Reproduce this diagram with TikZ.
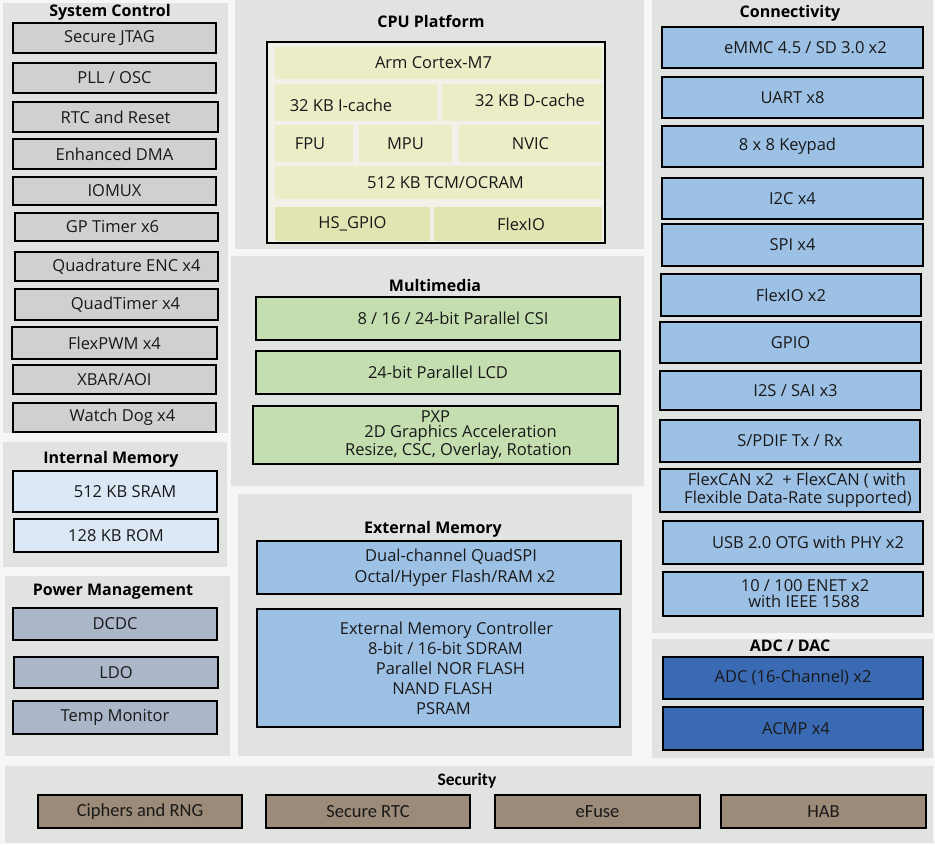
\documentclass[tikz,border=0pt]{standalone}
\usepackage{fontspec}
\setmainfont{Open Sans}
\newfontfamily\secfont{Carlito}
\definecolor{pagebg}{HTML}{F5F6F5}
\definecolor{panelbg}{HTML}{E0E3DF}
\definecolor{sysfill}{HTML}{D1CFCF}
\definecolor{cpubg}{HTML}{F1F1EA}
\definecolor{cpucell}{HTML}{EAEDC6}
\definecolor{cpucelltwo}{HTML}{E2E5B2}
\definecolor{mmfill}{HTML}{C4DEB0}
\definecolor{bluefill}{HTML}{9DC0E5}
\definecolor{imfill}{HTML}{DCE8F6}
\definecolor{pmfill}{HTML}{ACB6C9}
\definecolor{adcfill}{HTML}{3A6AB3}
\definecolor{secfill}{HTML}{9B8B78}
\newcommand{\bx}[7]{\node[#2, minimum width={(#5-#3)*1pt}, minimum height={(#6-#4)*1pt}] (#1) at ({(#3+#5)/2},{(#4+#6)/2}) {#7};}
\tikzset{
  every node/.style={inner sep=0pt, outer sep=0pt, font=\fontsize{16.5}{20}\selectfont, text=black!90},
  panel/.style={fill=panelbg, draw=none},
  ttl/.style={font=\fontsize{16}{18}\selectfont\bfseries, text=black},
  blk/.style={draw=black, line width=1.5pt, align=center},
  sysbox/.style={blk, fill=sysfill},
  cell/.style={fill=cpucell, align=center},
  celltwo/.style={fill=cpucelltwo, align=center},
  mmbox/.style={blk, fill=mmfill},
  bluebox/.style={blk, fill=bluefill},
  imbox/.style={blk, fill=imfill},
  pmbox/.style={blk, fill=pmfill},
  adcbox/.style={blk, fill=adcfill},
  secbox/.style={blk, fill=secfill, font=\fontsize{18.5}{20}\selectfont\secfont},
}
\begin{document}
\begin{tikzpicture}[x=1pt,y=-1pt]
\useasboundingbox (0,0) rectangle (935,844);
\fill[pagebg] (0,0) rectangle (935,844);
% panels
\bx{sysp}{panel}{3}{3}{228}{433}{}
\bx{cpup}{panel}{235}{0}{644}{249}{}
\bx{mmp}{panel}{231}{256}{644}{486}{}
\bx{emp}{panel}{238}{494}{632}{756}{}
\bx{conp}{panel}{652}{0}{933}{633}{}
\bx{adcp}{panel}{652}{639}{933}{758}{}
\bx{imp}{panel}{3}{442}{227}{567}{}
\bx{pmp}{panel}{5}{576}{230}{756}{}
\bx{secp}{panel}{5}{766}{933}{843}{}
% titles
\node[ttl] (tsys) at (110,12) {System Control};
\node[ttl] (tcpu) at (431,21) {CPU Platform};
\node[ttl] (tcon) at (790,13) {Connectivity};
\node[ttl] (tmm) at (435,285) {Multimedia};
\node[ttl] (tem) at (433,529) {External Memory};
\node[ttl] (tim) at (111,459) {Internal Memory};
\node[ttl] (tpm) at (113,592) {Power Management};
\node[ttl] (tadc) at (790,646) {ADC / DAC};
\node[ttl, font=\fontsize{17.5}{19}\selectfont\secfont\bfseries] (tsec) at (467,781) {Security};
% system control
\bx{s1}{sysbox}{13}{23}{216}{53}{Secure JTAG\hspace*{10pt}}
\bx{s2}{sysbox}{13}{63}{216}{93}{PLL / OSC}
\bx{s3}{sysbox}{13}{102}{218}{132}{RTC and Reset}
\bx{s4}{sysbox}{13}{139}{216}{169}{Enhanced DMA}
\bx{s5}{sysbox}{13}{177}{216}{205}{IOMUX}
\bx{s6}{sysbox}{15}{213}{218}{241}{GP Timer x6\hspace*{8pt}}
\bx{s7}{sysbox}{15}{252}{218}{281}{\hspace*{20pt}Quadrature ENC x4}
\bx{s8}{sysbox}{15}{289}{218}{320}{\hspace*{18pt}QuadTimer x4}
\bx{s9}{sysbox}{12}{327}{217}{359}{FlexPWM x4}
\bx{s10}{sysbox}{13}{365}{216}{394}{XBAR/AOI}
\bx{s11}{sysbox}{13}{403}{216}{432}{\hspace*{16pt}Watch Dog x4}
% CPU
\bx{cpu}{draw=black, line width=1.2pt, fill=cpubg}{267}{42}{605}{243}{}
\bx{c1}{cell}{275}{47}{602}{79}{Arm Cortex-M7\hspace*{10pt}}
\bx{c2}{cell}{275}{84}{437}{121}{}
\node (c2t) at (341,105) {32 KB I-cache};
\bx{c3}{cell}{442}{84}{602}{121}{}
\node (c3t) at (530,100) {32 KB D-cache};
\bx{c4}{cell}{275}{125}{353}{162}{FPU\hspace*{8pt}}
\bx{c5}{cell}{359}{125}{452}{162}{MPU}
\bx{c6}{cell}{459}{125}{602}{162}{NVIC}
\bx{c7}{cell}{275}{166}{602}{199}{\hspace*{14pt}512 KB TCM/OCRAM}
\bx{c8}{celltwo}{275}{207}{430}{241}{HS\_GPIO}
\bx{c9}{celltwo}{434}{207}{602}{241}{}
\node (c9t) at (521,224) {FlexIO};
% multimedia
\bx{m1}{mmbox}{256}{297}{620}{340}{\hspace*{30pt}8 / 16 / 24-bit Parallel CSI}
\bx{m2}{mmbox}{256}{351}{620}{394}{24-bit Parallel LCD}
\bx{m3}{mmbox, font=\fontsize{16.5}{18}\selectfont}{253}{406}{618}{464}{PXP\\[-3pt]\hspace*{50pt}2D Graphics Acceleration\\\hspace*{46pt}Resize, CSC, Overlay, Rotation}
% external memory
\bx{e1}{bluebox, font=\fontsize{16.5}{21}\selectfont}{257}{541}{621}{594}{\hspace*{24pt}Dual-channel QuadSPI\\\hspace*{32pt}Octal/Hyper Flash/RAM x2}
\bx{e2}{bluebox}{257}{609}{620}{727}{\hspace*{16pt}External Memory Controller\\\hspace*{14pt}8-bit / 16-bit SDRAM\\\hspace*{24pt}Parallel NOR FLASH\\\hspace*{8pt}NAND FLASH\\\hspace*{10pt}PSRAM}
% connectivity
\bx{k1}{bluebox}{662}{27}{923}{68}{\hspace*{26pt}eMMC 4.5 / SD 3.0 x2}
\bx{k2}{bluebox}{662}{77}{923}{118}{UART x8}
\bx{k3}{bluebox}{662}{126}{923}{167}{8 x 8 Keypad\hspace*{10pt}}
\bx{k4}{bluebox}{662}{178}{923}{219}{I2C x4}
\bx{k5}{bluebox}{662}{224}{923}{266}{SPI x4}
\bx{k6}{bluebox}{661}{274}{921}{316}{FlexIO x2}
\bx{k7}{bluebox}{660}{322}{921}{363}{GPIO}
\bx{k8}{bluebox}{660}{371}{921}{410}{\hspace*{10pt}I2S / SAI x3}
\bx{k9}{bluebox}{660}{420}{920}{462}{S/PDIF Tx / Rx}
\bx{k10}{bluebox, font=\fontsize{16.5}{18}\selectfont}{660}{469}{920}{512}{\hspace*{14pt}FlexCAN x2\ \ + FlexCAN ( with\\\hspace*{16pt}Flexible Data-Rate supported)}
\bx{k11}{bluebox}{663}{521}{923}{564}{\hspace*{30pt}USB 2.0 OTG with PHY x2}
\bx{k12}{bluebox, font=\fontsize{16.5}{16}\selectfont}{663}{572}{923}{616}{\hspace*{24pt}10 / 100 ENET x2\\\hspace*{22pt}with IEEE 1588}
% ADC
\bx{a1}{adcbox}{663}{657}{923}{699}{ADC (16-Channel) x2}
\bx{a2}{adcbox}{663}{707}{923}{750}{\hspace*{6pt}ACMP x4}
% internal memory
\bx{i1}{imbox}{13}{471}{217}{512}{\hspace*{20pt}512 KB SRAM}
\bx{i2}{imbox}{14}{519}{218}{552}{128 KB ROM}
% power
\bx{p1}{pmbox}{13}{608}{217}{640}{DCDC}
\bx{p2}{pmbox}{14}{657}{218}{688}{LDO}
\bx{p3}{pmbox}{13}{701}{217}{734}{Temp Monitor}
% security
\bx{x1}{secbox}{38}{795}{242}{828}{Ciphers and RNG}
\bx{x2}{secbox}{266}{795}{470}{828}{Secure RTC}
\bx{x3}{secbox}{495}{795}{700}{828}{eFuse}
\bx{x4}{secbox}{721}{795}{926}{828}{HAB}
\end{tikzpicture}
\end{document}
